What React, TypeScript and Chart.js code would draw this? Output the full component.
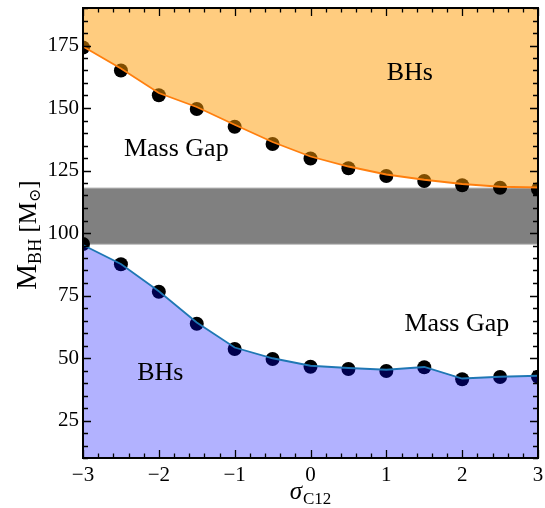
import React, { useEffect, useRef } from "react";
import { Chart, registerables } from "chart.js";

Chart.register(...registerables);

// ---- data ----
const sigma = [-3, -2.5, -2, -1.5, -1, -0.5, 0, 0.5, 1, 1.5, 2, 2.5, 3];
const upperPoints = [174.2, 165.0, 155.1, 149.6, 142.5, 135.6, 129.8, 125.9, 122.8, 120.8, 119.1, 118.1, 117.5];
const upperLine = [174.6, 165.8, 156.0, 150.4, 143.3, 136.4, 130.6, 126.6, 123.4, 121.3, 119.6, 118.5, 118.2];
const lowerPoints = [95.6, 87.5, 76.5, 63.7, 53.6, 49.6, 46.5, 45.6, 44.8, 46.3, 41.5, 42.4, 42.5];
const lowerLine = [95.2, 87.6, 76.7, 64.2, 54.2, 49.9, 46.9, 46.0, 45.3, 46.4, 41.8, 42.5, 42.9];
const bandLow = 95.5;
const bandHigh = 118;
const xTicks = [-3, -2, -1, 0, 1, 2, 3];
const yTicks = [25, 50, 75, 100, 125, 150, 175];
const xRange = [-3, 3];
const yRange = [10, 190];
const xMinorStep = 0.2;
const yMinorStep = 5;
const labelTexts = ["BHs", "Mass Gap", "Mass Gap", "BHs"];
const labelX = [1.31, -1.77, 1.93, -1.98];
const labelY = [163.8, 133.6, 63.4, 43.8];

const SERIF = '"Liberation Serif", "DejaVu Serif", serif';

const fmt = (v: number) => (v < 0 ? "\u2212" + Math.abs(v) : String(v));

const decor = {
  id: "decor",
  beforeDatasetsDraw(chart: any) {
    const { ctx, chartArea: a, scales } = chart;
    const y = scales.y;
    const t = y.getPixelForValue(bandHigh);
    const b = y.getPixelForValue(bandLow);
    ctx.save();
    ctx.fillStyle = "#808080";
    ctx.fillRect(a.left, t, a.right - a.left, b - t);
    ctx.strokeStyle = "#bdbdbd";
    ctx.lineWidth = 1;
    ctx.beginPath();
    ctx.moveTo(a.left, t);
    ctx.lineTo(a.right, t);
    ctx.moveTo(a.left, b);
    ctx.lineTo(a.right, b);
    ctx.stroke();
    ctx.restore();
  },
  afterDatasetsDraw(chart: any) {
    const { ctx, chartArea: a, scales } = chart;
    const xs = scales.x;
    const ys = scales.y;
    ctx.save();
    // annotations
    ctx.fillStyle = "#000";
    ctx.font = "26px " + SERIF;
    ctx.textAlign = "center";
    ctx.textBaseline = "middle";
    labelTexts.forEach((txt, i) => {
      ctx.fillText(txt, xs.getPixelForValue(labelX[i]), ys.getPixelForValue(labelY[i]));
    });
    // ticks
    ctx.strokeStyle = "#000";
    ctx.lineWidth = 1.3;
    ctx.beginPath();
    const nx = Math.round((xRange[1] - xRange[0]) / xMinorStep);
    for (let i = 0; i <= nx; i++) {
      const v = xRange[0] + i * xMinorStep;
      const major = xTicks.some((m) => Math.abs(m - v) < 1e-6);
      const len = major ? 8 : 4.5;
      const px = Math.round(xs.getPixelForValue(v)) + 0.5;
      ctx.moveTo(px, a.bottom);
      ctx.lineTo(px, a.bottom - len);
      ctx.moveTo(px, a.top);
      ctx.lineTo(px, a.top + len);
    }
    const ny = Math.round((yRange[1] - yRange[0]) / yMinorStep);
    for (let i = 0; i <= ny; i++) {
      const v = yRange[0] + i * yMinorStep;
      const major = yTicks.some((m) => Math.abs(m - v) < 1e-6);
      const len = major ? 8 : 5;
      const py = Math.round(ys.getPixelForValue(v)) + 0.5;
      ctx.moveTo(a.left, py);
      ctx.lineTo(a.left + len, py);
      ctx.moveTo(a.right, py);
      ctx.lineTo(a.right - len, py);
    }
    ctx.stroke();
    // frame
    ctx.lineWidth = 2;
    ctx.strokeRect(a.left, a.top, a.right - a.left, a.bottom - a.top);
    ctx.restore();
  },
  afterDraw(chart: any) {
    const { ctx, chartArea: a } = chart;
    ctx.save();
    ctx.fillStyle = "#000";
    ctx.textAlign = "left";
    ctx.textBaseline = "alphabetic";
    // x title: sigma_C12
    const bigX = "italic 25px " + SERIF;
    const smallX = "17px " + SERIF;
    ctx.font = bigX;
    const w1 = ctx.measureText("\u03C3").width;
    ctx.font = smallX;
    const w2 = ctx.measureText("C12").width;
    const cx = (a.left + a.right) / 2;
    const sx = cx - (w1 + w2 + 1) / 2;
    ctx.font = bigX;
    ctx.fillText("\u03C3", sx, 499);
    ctx.font = smallX;
    ctx.fillText("C12", sx + w1 + 1, 504);
    // y title: M_BH [M_sun]
    const pieces = [
      { t: "M", f: "29px " + SERIF, dy: 0 },
      { t: "BH", f: "18px " + SERIF, dy: 5 },
      { t: " [M", f: "25px " + SERIF, dy: 0 },
      { t: "\u2299", f: "16px " + SERIF, dy: 4 },
      { t: "]", f: "25px " + SERIF, dy: 0 },
    ];
    let total = 0;
    const widths = pieces.map((p) => {
      ctx.font = p.f;
      const w = ctx.measureText(p.t).width;
      total += w;
      return w;
    });
    ctx.translate(27, (a.top + a.bottom) / 2 + 2);
    ctx.rotate(-Math.PI / 2);
    let px = -total / 2;
    pieces.forEach((p, i) => {
      ctx.font = p.f;
      ctx.fillText(p.t, px, 9 + p.dy);
      px += widths[i];
    });
    ctx.restore();
  },
};

export default function App() {
  const ref = useRef<HTMLCanvasElement | null>(null);
  useEffect(() => {
    if (!ref.current) return;
    const pts = (ys: number[]) => sigma.map((x, i) => ({ x, y: ys[i] }));
    const chart = new Chart(ref.current, {
      type: "line",
      data: {
        datasets: [
          {
            data: pts(upperLine),
            borderColor: "#ff7f0e",
            borderWidth: 1.8,
            pointRadius: 0,
            fill: "end",
            backgroundColor: "rgba(255,153,0,0.5)",
            order: 1,
            clip: 0,
          } as any,
          {
            data: pts(lowerLine),
            borderColor: "#1f77b4",
            borderWidth: 1.8,
            pointRadius: 0,
            fill: "start",
            backgroundColor: "rgba(0,0,255,0.3)",
            order: 1,
            clip: 0,
          } as any,
          {
            data: pts(upperPoints),
            showLine: false,
            pointRadius: 7,
            pointBackgroundColor: "#000",
            pointBorderWidth: 0,
            fill: false,
            order: 5,
            clip: 0,
          } as any,
          {
            data: pts(lowerPoints),
            showLine: false,
            pointRadius: 7,
            pointBackgroundColor: "#000",
            pointBorderWidth: 0,
            fill: false,
            order: 5,
            clip: 0,
          } as any,
        ],
      },
      options: {
        animation: false,
        responsive: false,
        events: [],
        layout: { padding: { top: 8, right: 7, left: 0, bottom: 0 } },
        plugins: { legend: { display: false }, tooltip: { enabled: false } },
        scales: {
          x: {
            type: "linear",
            min: xRange[0],
            max: xRange[1],
            grid: { display: false, drawTicks: false },
            border: { display: false },
            ticks: {
              padding: 5,
              color: "#000",
              maxRotation: 0,
              autoSkip: false,
              font: { family: SERIF, size: 21 },
              callback: (v: any) => fmt(Number(v)),
            },
            afterBuildTicks: (s: any) => {
              s.ticks = xTicks.map((v) => ({ value: v }));
            },
            afterFit: (s: any) => {
              s.height = 50;
              s.paddingLeft = 0;
              s.paddingRight = 0;
            },
          },
          y: {
            type: "linear",
            min: yRange[0],
            max: yRange[1],
            grid: { display: false, drawTicks: false },
            border: { display: false },
            ticks: {
              padding: 4,
              color: "#000",
              autoSkip: false,
              font: { family: SERIF, size: 21 },
              callback: (v: any) => fmt(Number(v)),
            },
            afterBuildTicks: (s: any) => {
              s.ticks = yTicks.map((v) => ({ value: v }));
            },
            afterFit: (s: any) => {
              s.width = 83;
              s.paddingTop = 0;
              s.paddingBottom = 0;
            },
          },
        },
      } as any,
      plugins: [decor],
    });
    return () => chart.destroy();
  }, []);
  return (
    <div style={{ position: "absolute", left: 0, top: 0, width: 545, height: 508, background: "#fff" }}>
      <canvas ref={ref} width={545} height={508} style={{ display: "block" }} />
    </div>
  );
}
